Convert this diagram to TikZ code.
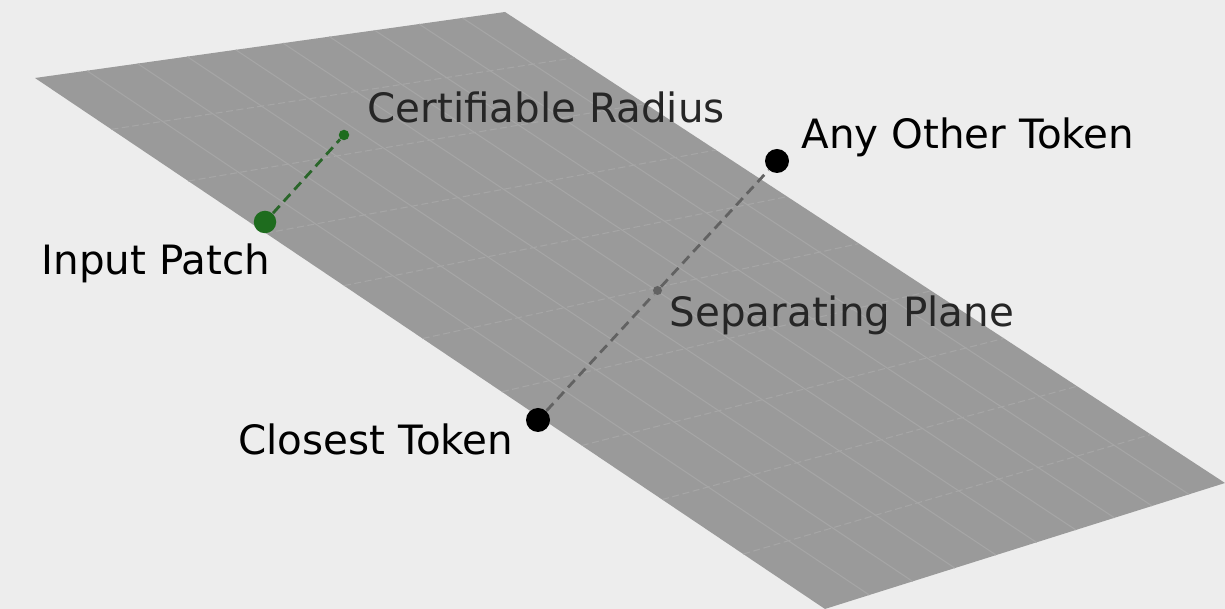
\documentclass[tikz,border=0pt]{standalone}
\usepackage{fontspec}
\setmainfont{DejaVu Sans}
\usepackage{tikz}
\usetikzlibrary{positioning}
\definecolor{PaperGray}{RGB}{237,237,237}
\definecolor{PlaneGray}{RGB}{154,154,154}
\definecolor{GridGray}{RGB}{166,166,166}
\definecolor{PatchGreen}{RGB}{30,108,30}
\definecolor{RadiusGreen}{RGB}{42,102,42}
\definecolor{LinkGray}{RGB}{98,98,98}

% point (u,v) of the tilted plane, seen in perspective
\newcommand{\planeat}[3]{%
  \pgfmathsetmacro{\pw}{0.11758*#1-0.03665*#2+1}%
  \pgfmathsetmacro{\px}{(529.38*#1+759.76*#2+35)/\pw}%
  \pgfmathsetmacro{\py}{(-64.59*#1+508.68*#2+78)/\pw}%
  \coordinate (#3) at (\px,\py);}

\begin{document}
\begin{tikzpicture}[
    x=0.1mm, y=-0.1mm,
    font=\fontsize{11.5}{13.5}\selectfont,
    dot/.style={circle, fill, inner sep=0pt, minimum size=#1},
    dot/.default=2.2mm,
    tag/.style={inner sep=0pt, text=black},
    dimtag/.style={inner sep=0pt, text=black!85},
    link/.style={line width=0.8pt, dash pattern=on 2.8pt off 1.7pt},
    gridline/.style={GridGray, line width=0.3pt},
    gridback/.style={GridGray, line width=0.3pt, dash pattern=on 2pt off 1pt}
  ]
  \useasboundingbox (0,0) rectangle (1225,609);
  \fill[PaperGray] (0,0) rectangle (1225,609);
  \clip (0,0) rectangle (1225,609);

  % the plane and its grid
  \planeat{0}{0}{pA} \planeat{1}{0}{pB} \planeat{1}{1}{pC} \planeat{0}{1}{pD}
  \fill[PlaneGray] (pA) -- (pB) -- (pC) -- (pD) -- cycle;
  \foreach \k in {1,...,9} {
    \planeat{\k/10}{0}{gs} \planeat{\k/10}{1}{ge}
    \draw[gridline] (gs) -- (ge);
    \planeat{0}{\k/10}{hs} \planeat{1}{\k/10}{he}
    \draw[gridback] (hs) -- (he);
  }

  % points
  \node[dot=2.25mm, PatchGreen] (patch) at (265,222) {};
  \node[dot=1.05mm, PatchGreen] (radius) at (344,135) {};
  \node[dot=2.4mm, black] (other) at (777,161) {};
  \node[dot=2.4mm, black] (closest) at (538,420) {};
  \node[dot=0.9mm, LinkGray] (mid) at (657.5,290.5) {};

  \draw[link, RadiusGreen] (patch) -- (radius);
  \draw[link, LinkGray] (closest) -- (mid) -- (other);

  % labels
  \node[dimtag, anchor=base west] (radiuslabel) at (367,123) {Certifiable Radius};
  \node[tag, anchor=base west] (otherlabel) at (801,149) {Any Other Token};
  \node[dimtag, anchor=base west] (planelabel) at (669,327) {Separating Plane};
  \node[tag, anchor=base west] (patchlabel) at (41,275) {Input Patch};
  \node[tag, anchor=base east] (closestlabel) at (514,455) {Closest Token};
\end{tikzpicture}
\end{document}
